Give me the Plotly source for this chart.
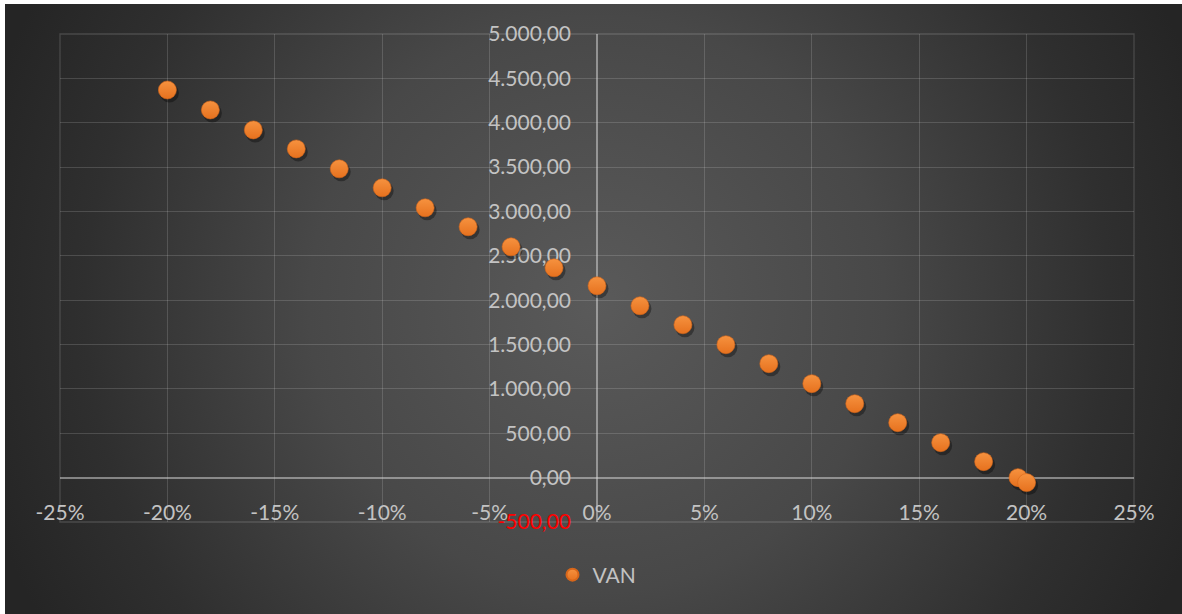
import urllib.parse
import plotly.graph_objects as go

# Discount rate (as a fraction) and net present value (VAN) at each rate
rates = [-0.20, -0.18, -0.16, -0.14, -0.12, -0.10, -0.08, -0.06, -0.04, -0.02,
         0.00, 0.02, 0.04, 0.06, 0.08, 0.10, 0.12, 0.14, 0.16, 0.18, 0.196, 0.20]
van = [4369, 4144, 3919, 3705, 3480, 3266, 3041, 2827, 2601, 2365,
       2162, 1937, 1723, 1498, 1284, 1059, 833, 619, 394, 180, 0, -56]

x_ticks = [-0.25, -0.20, -0.15, -0.10, -0.05, 0.0, 0.05, 0.10, 0.15, 0.20, 0.25]
x_labels = ["-25%", "-20%", "-15%", "-10%", "-5%", "0%", "5%", "10%", "15%", "20%", "25%"]
y_ticks = [-500, 0, 500, 1000, 1500, 2000, 2500, 3000, 3500, 4000, 4500, 5000]
y_labels = ['<span style="color:#FF0000">-500,00</span>', "0,00", "500,00", "1.000,00",
            "1.500,00", "2.000,00", "2.500,00", "3.000,00", "3.500,00", "4.000,00",
            "4.500,00", "5.000,00"]

W, H = 1182, 614
M_L, M_R, M_T, M_B = 60, 48, 34, 92
PW, PH = W - M_L - M_R, H - M_T - M_B
X_MIN, X_MAX = -0.25, 0.25
Y_MIN, Y_MAX = -500, 5000

TEXT = "#C3C3C3"
GRID = "rgba(255,255,255,0.15)"
FONT = "Lato"

# Dark radial backdrop for the chart area
svg = (
    "<svg xmlns='http://www.w3.org/2000/svg' width='1177' height='610' viewBox='0 0 1177 610' "
    "preserveAspectRatio='none'><defs>"
    "<radialGradient id='g' gradientUnits='userSpaceOnUse' cx='592' cy='300' r='640'>"
    "<stop offset='0' stop-color='#5a5a5a'/>"
    "<stop offset='0.45' stop-color='#484848'/>"
    "<stop offset='0.8' stop-color='#2f2f2f'/>"
    "<stop offset='1' stop-color='#252525'/>"
    "</radialGradient></defs>"
    "<rect x='0' y='0' width='1177' height='610' fill='url(#g)'/></svg>"
)
bg_src = "data:image/svg+xml;charset=utf-8," + urllib.parse.quote(svg)

# Pixel -> paper conversions for the backdrop placement
bx0 = (5 - M_L) / PW
bx1 = (W - M_L) / PW
by1 = (M_T + PH - 4) / PH
by0 = (M_T + PH - H) / PH

# Soft drop shadow under each marker (offset a few pixels down-right)
dx = 2.0 * (X_MAX - X_MIN) / PW
dy = 3.0 * (Y_MAX - Y_MIN) / PH
shadow_x = [r + dx for r in rates]
shadow_y = [v - dy for v in van]

fig = go.Figure()
fig.add_trace(go.Scatter(
    x=shadow_x, y=shadow_y, mode="markers", showlegend=False, hoverinfo="skip",
    marker=dict(size=19, color="rgba(0,0,0,0.35)", line=dict(width=0)),
))
fig.add_trace(go.Scatter(
    x=rates, y=van, mode="markers", name="VAN",
    marker=dict(size=18, color="#F6923F",
                gradient=dict(type="vertical", color="#E6711E"),
                line=dict(width=0.6, color="#D7661A")),
))

# outer frame of the grid (the edge gridlines)
fig.add_shape(type="rect", xref="paper", yref="paper", x0=0, x1=1, y0=0, y1=1,
              line=dict(color=GRID, width=1.3), fillcolor="rgba(0,0,0,0)", layer="below")

fig.update_layout(
    width=W, height=H, autosize=False,
    margin=dict(l=M_L, r=M_R, t=M_T, b=M_B, pad=0),
    paper_bgcolor="#FFFFFF", plot_bgcolor="rgba(0,0,0,0)",
    font=dict(family=FONT, size=21, color=TEXT),
    images=[dict(source=bg_src, xref="paper", yref="paper", x=bx0, y=by1,
                 sizex=bx1 - bx0, sizey=by1 - by0, xanchor="left", yanchor="top",
                 sizing="stretch", layer="below")],
    xaxis=dict(
        range=[X_MIN, X_MAX], tickvals=x_ticks, ticktext=x_labels,
        anchor="free", position=(0 - Y_MIN) / (Y_MAX - Y_MIN),
        showgrid=True, gridcolor=GRID, gridwidth=1.3,
        zeroline=True, zerolinecolor="rgba(220,220,220,0.5)", zerolinewidth=1.8,
        showline=False, ticks="", ticklabelstandoff=20, layer="below traces",
        tickfont=dict(family=FONT, size=21, color=TEXT), fixedrange=True,
    ),
    yaxis=dict(
        range=[Y_MIN, Y_MAX], tickvals=y_ticks, ticktext=y_labels,
        anchor="free", position=(0 - X_MIN) / (X_MAX - X_MIN),
        showgrid=True, gridcolor=GRID, gridwidth=1.3,
        zeroline=True, zerolinecolor="rgba(220,220,220,0.5)", zerolinewidth=1.8,
        showline=False, ticks="", ticklabelstandoff=26, layer="below traces",
        tickfont=dict(family=FONT, size=21, color=TEXT), fixedrange=True,
    ),
    legend=dict(orientation="h", x=0.5, xanchor="center",
                y=(M_T + PH - 575) / PH, yanchor="middle",
                bgcolor="rgba(0,0,0,0)", font=dict(family=FONT, size=21, color=TEXT),
                itemsizing="constant"),
    showlegend=True,
)

fig.write_html("out.html")
